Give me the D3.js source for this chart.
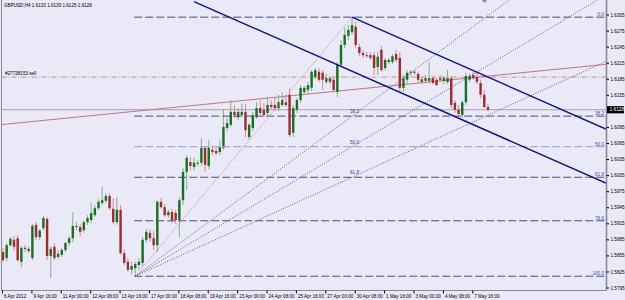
<!DOCTYPE html>
<html>
<head>
<meta charset="utf-8">
<script src="https://cdn.jsdelivr.net/npm/d3@7"></script>
<style>
  html, body { margin: 0; padding: 0; background: #e9e9f7; }
  svg { display: block; }
</style>
</head>
<body>
<div id="chart"></div>
<script>
// GBPUSD H4 candles
const headerText = "GBPUSD,H4  1.6133 1.6139 1.6125 1.6128";

const openP = [1.5862,1.5851,1.5875,1.5885,1.5888,1.5844,1.5868,1.5868,1.5851,1.5913,
  1.5890,1.5907,1.5924,1.5855,1.5872,1.5853,1.5857,1.5866,1.5879,1.5888,
  1.5909,1.5909,1.5903,1.5918,1.5922,1.5931,1.5944,1.5954,1.5958,1.5967,
  1.5943,1.5918,1.5941,1.5860,1.5844,1.5829,1.5832,1.5838,1.5842,1.5885,
  1.5898,1.5888,1.5875,1.5956,1.5946,1.5931,1.5937,1.5935,1.5922,1.5959,
  1.6012,1.6030,1.6021,1.6027,1.6029,1.6057,1.6023,1.6053,1.6051,1.6049,
  1.6057,1.6094,1.6100,1.6124,1.6114,1.6118,1.6124,1.6077,1.6094,1.6114,
  1.6131,1.6128,1.6122,1.6137,1.6137,1.6131,1.6137,1.6142,1.6156,1.6085,
  1.6128,1.6146,1.6161,1.6165,1.6169,1.6189,1.6199,1.6197,1.6180,1.6187,
  1.6184,1.6161,1.6212,1.6249,1.6266,1.6273,1.6283,1.6245,1.6234,1.6230,
  1.6230,1.6230,1.6208,1.6240,1.6206,1.6217,1.6217,1.6232,1.6225,1.6169,
  1.6184,1.6197,1.6199,1.6195,1.6180,1.6187,1.6182,1.6187,1.6184,1.6187,
  1.6182,1.6180,1.6187,1.6141,1.6128,1.6118,1.6142,1.6184,1.6193,1.6189,
  1.6178,1.6156,1.6133];

const highP = [1.5870,1.5879,1.5890,1.5892,1.5894,1.5873,1.5875,1.5873,1.5915,1.5918,
  1.5905,1.5930,1.5928,1.5873,1.5879,1.5866,1.5870,1.5881,1.5892,1.5937,
  1.5918,1.5915,1.5922,1.5931,1.5954,1.5950,1.5961,1.5984,1.5972,1.5971,
  1.5963,1.5965,1.5950,1.5866,1.5851,1.5844,1.5844,1.5851,1.5890,1.5905,
  1.5905,1.5902,1.5959,1.5963,1.5952,1.5941,1.5943,1.5941,1.5965,1.6019,
  1.6043,1.6040,1.6038,1.6034,1.6075,1.6060,1.6072,1.6060,1.6057,1.6072,
  1.6128,1.6113,1.6146,1.6137,1.6131,1.6139,1.6139,1.6103,1.6124,1.6142,
  1.6146,1.6141,1.6152,1.6146,1.6150,1.6156,1.6161,1.6156,1.6169,1.6137,
  1.6150,1.6174,1.6172,1.6180,1.6202,1.6206,1.6206,1.6202,1.6195,1.6191,
  1.6189,1.6217,1.6258,1.6281,1.6286,1.6301,1.6292,1.6251,1.6240,1.6236,
  1.6236,1.6236,1.6236,1.6247,1.6225,1.6225,1.6232,1.6240,1.6236,1.6193,
  1.6202,1.6202,1.6202,1.6199,1.6191,1.6193,1.6217,1.6191,1.6187,1.6193,
  1.6189,1.6202,1.6191,1.6146,1.6137,1.6146,1.6197,1.6195,1.6199,1.6199,
  1.6184,1.6165,1.6139];

const lowP = [1.5844,1.5845,1.5872,1.5866,1.5844,1.5834,1.5862,1.5860,1.5847,1.5885,
  1.5885,1.5903,1.5847,1.5814,1.5847,1.5849,1.5853,1.5862,1.5873,1.5881,
  1.5903,1.5892,1.5898,1.5913,1.5916,1.5928,1.5941,1.5950,1.5954,1.5941,
  1.5915,1.5913,1.5857,1.5838,1.5825,1.5821,1.5817,1.5829,1.5836,1.5879,
  1.5881,1.5866,1.5862,1.5943,1.5928,1.5926,1.5916,1.5915,1.5890,1.5950,
  1.5978,1.6015,1.6015,1.6023,1.6023,1.6012,1.6017,1.6043,1.6042,1.6043,
  1.6053,1.6088,1.6096,1.6113,1.6109,1.6114,1.6077,1.6072,1.6088,1.6111,
  1.6118,1.6114,1.6116,1.6128,1.6125,1.6125,1.6133,1.6133,1.6077,1.6077,
  1.6122,1.6141,1.6156,1.6159,1.6163,1.6185,1.6180,1.6165,1.6176,1.6176,
  1.6161,1.6152,1.6208,1.6243,1.6258,1.6268,1.6243,1.6228,1.6225,1.6225,
  1.6221,1.6193,1.6193,1.6199,1.6202,1.6213,1.6213,1.6217,1.6161,1.6161,
  1.6176,1.6191,1.6193,1.6180,1.6176,1.6178,1.6176,1.6176,1.6172,1.6180,
  1.6176,1.6176,1.6131,1.6122,1.6116,1.6113,1.6137,1.6180,1.6184,1.6176,
  1.6150,1.6131,1.6125];

const closeP = [1.5847,1.5875,1.5887,1.5872,1.5847,1.5870,1.5870,1.5864,1.5911,1.5890,
  1.5902,1.5926,1.5855,1.5868,1.5851,1.5859,1.5866,1.5879,1.5888,1.5911,
  1.5911,1.5900,1.5918,1.5926,1.5935,1.5944,1.5956,1.5959,1.5967,1.5944,
  1.5918,1.5941,1.5860,1.5842,1.5829,1.5836,1.5840,1.5844,1.5885,1.5900,
  1.5888,1.5875,1.5956,1.5946,1.5931,1.5937,1.5922,1.5922,1.5959,1.6012,
  1.6038,1.6023,1.6029,1.6029,1.6057,1.6025,1.6057,1.6049,1.6047,1.6058,
  1.6096,1.6103,1.6124,1.6118,1.6124,1.6124,1.6090,1.6100,1.6118,1.6131,
  1.6122,1.6118,1.6137,1.6133,1.6131,1.6142,1.6146,1.6137,1.6081,1.6131,
  1.6146,1.6169,1.6169,1.6174,1.6199,1.6202,1.6184,1.6184,1.6187,1.6180,
  1.6165,1.6212,1.6249,1.6268,1.6277,1.6286,1.6249,1.6234,1.6230,1.6228,
  1.6225,1.6206,1.6227,1.6202,1.6221,1.6221,1.6228,1.6221,1.6169,1.6187,
  1.6197,1.6199,1.6197,1.6184,1.6185,1.6182,1.6187,1.6178,1.6174,1.6184,
  1.6187,1.6187,1.6137,1.6128,1.6120,1.6142,1.6191,1.6191,1.6187,1.6180,
  1.6156,1.6133,1.6128];

const timeTickIdx = [0,8,16,24,32,40,48,56,64,72,80,88,96,104,112,120,128];
const timeLabels = ["6 Apr 2012","9 Apr 16:00","11 Apr 00:00","12 Apr 08:00","13 Apr 16:00",
  "17 Apr 00:00","18 Apr 08:00","19 Apr 16:00","23 Apr 00:00","24 Apr 08:00","25 Apr 16:00",
  "27 Apr 00:00","30 Apr 08:00","1 May 16:00","3 May 00:00","4 May 08:00","7 May 16:00"];

// 1.6125 is hidden behind the current-price box in the reference
const priceTicks = [1.5795,1.5825,1.5855,1.5885,1.5915,1.5945,1.5975,1.6005,1.6035,
  1.6065,1.6095,1.6155,1.6185,1.6215,1.6245,1.6275,1.6305];

const lastPrice = 1.6128;
const orderPrice = 1.6189;
const orderLabel = "#27738153 sell";

// fibonacci retracement + fan, anchored on the swing low / high bars
const swingLowIdx = 36, swingLowPrice = 1.5817;
const swingHighIdx = 95, swingHighPrice = 1.6301;
const fibLevels = [0, 38.2, 50, 61.8, 78.6, 100];
const fibLabels = ["0.0", "38.2", "50.0", "61.8", "78.6", "100.0"];
const fanLevels = [38.2, 50, 61.8];
const fanLabels = ["38.2", "50.0", "61.8"];

// hand-drawn lines: [bar index, price]
const channelUpper = [[95, 1.6301], [164.4, 1.6091]];
const channelLower = [[52, 1.6330], [164.4, 1.5990]];
const redTrend = [[-0.8, 1.6100], [164.4, 1.6213]];

const W = 625, H = 300;
const plotL = 1.5, plotR = 606.5, plotT = 0, plotB = 290.5;

const svg = d3.select("#chart").append("svg")
  .attr("width", W).attr("height", H)
  .style("font-family", "'Liberation Sans', Arial, sans-serif");

svg.append("rect").attr("width", W).attr("height", H).attr("fill", "#e9e9f7");

const x = d3.scaleLinear().domain([0, 164.4]).range([3, 607]);
const y = d3.scaleLinear().domain([1.5795, 1.6305]).range([288, 15]);

svg.append("defs").append("clipPath").attr("id", "plotClip")
  .append("rect").attr("x", plotL).attr("y", plotT)
  .attr("width", plotR - plotL).attr("height", plotB - plotT);

const plot = svg.append("g").attr("clip-path", "url(#plotClip)");

// current price line (behind the candles)
plot.append("line")
  .attr("x1", plotL).attr("x2", plotR)
  .attr("y1", y(lastPrice)).attr("y2", y(lastPrice))
  .attr("stroke", "#a4a4b0").attr("stroke-width", 1);

// order line
plot.append("line")
  .attr("x1", plotL).attr("x2", plotR)
  .attr("y1", y(orderPrice)).attr("y2", y(orderPrice))
  .attr("stroke", "#b49a7c").attr("stroke-width", 1)
  .attr("stroke-dasharray", "5,2,1,2");

svg.append("text")
  .attr("x", 5).attr("y", y(orderPrice) - 2)
  .attr("font-size", 4.6).attr("fill", "#000")
  .text(orderLabel);

// red trend line
const lineGen = d3.line().x(d => x(d[0])).y(d => y(d[1]));
plot.append("path").datum(redTrend).attr("d", lineGen)
  .attr("fill", "none").attr("stroke", "#cc7080").attr("stroke-width", 1);

// candles
const bars = d3.range(openP.length).map(i => ({
  i, o: openP[i], h: highP[i], l: lowP[i], c: closeP[i]
}));
const bodyW = 2.4;

const candle = plot.append("g").selectAll("g").data(bars).enter().append("g");
candle.append("line")
  .attr("x1", d => x(d.i)).attr("x2", d => x(d.i))
  .attr("y1", d => y(d.h)).attr("y2", d => y(d.l))
  .attr("stroke", d => d.c >= d.o ? "#86b086" : "#cc8f8f")
  .attr("stroke-width", 1);
candle.append("rect")
  .attr("x", d => x(d.i) - bodyW / 2)
  .attr("width", bodyW)
  .attr("y", d => y(Math.max(d.o, d.c)))
  .attr("height", d => Math.max(1, Math.abs(y(d.o) - y(d.c))))
  .attr("fill", d => d.c >= d.o ? "#17701d" : "#a32a2a");

// fibonacci retracement levels
const range = swingHighPrice - swingLowPrice;
fibLevels.forEach((lv, k) => {
  const p = swingHighPrice - range * lv / 100;
  plot.append("line")
    .attr("x1", x(swingLowIdx) - 1).attr("x2", plotR - 1)
    .attr("y1", y(p)).attr("y2", y(p))
    .attr("stroke", lv === 50 ? "#9d9dd2" : "#4c4c80")
    .attr("stroke-width", 1)
    .attr("stroke-dasharray", "8,3");
  svg.append("text")
    .attr("x", 604).attr("y", y(p) - 1)
    .attr("text-anchor", "end")
    .attr("font-size", 4.6).attr("fill", "#4848c0")
    .text(fibLabels[k]);
});

// fan: swing low -> swing high (pink) and fib fan lines
const x0 = x(swingLowIdx), y0 = y(swingLowPrice);
plot.append("line")
  .attr("x1", x0).attr("y1", y0)
  .attr("x2", x(swingHighIdx)).attr("y2", y(swingHighPrice))
  .attr("stroke", "#d8708a").attr("stroke-width", 1)
  .attr("stroke-dasharray", "1,1.5");

fanLevels.forEach((lv, k) => {
  const p = swingHighPrice - range * lv / 100;
  const x1 = x(swingHighIdx), y1 = y(p);
  const slope = (y1 - y0) / (x1 - x0);
  const xe = plotR;
  plot.append("line")
    .attr("x1", x0).attr("y1", y0)
    .attr("x2", xe).attr("y2", y0 + slope * (xe - x0))
    .attr("stroke", "#5a5aa0").attr("stroke-width", 1)
    .attr("stroke-dasharray", "1,1.5");
  svg.append("text")
    .attr("x", x1 - 2).attr("y", y1 - 3)
    .attr("font-size", 4.6).attr("fill", "#3c3c90")
    .text(fanLabels[k]);
});

// regression channel lines
[channelUpper, channelLower].forEach(seg => {
  plot.append("path").datum(seg).attr("d", lineGen)
    .attr("fill", "none").attr("stroke", "#10108a").attr("stroke-width", 1.4);
});

// chart frame
svg.append("line").attr("x1", plotL).attr("x2", plotL).attr("y1", 0).attr("y2", plotB)
  .attr("stroke", "#8a8a96");
svg.append("line").attr("x1", plotL).attr("x2", plotR).attr("y1", plotB).attr("y2", plotB)
  .attr("stroke", "#8a8a96");
svg.append("line").attr("x1", plotR).attr("x2", plotR).attr("y1", 0).attr("y2", plotB)
  .attr("stroke", "#8a8a96").attr("stroke-width", 1.6);

// shift marker
svg.append("path")
  .attr("d", "M482,0 L487,0 L484.5,3 Z")
  .attr("fill", "#8a8a96");

// price axis (right)
const yAxis = svg.append("g").attr("transform", `translate(${plotR},0)`);
priceTicks.forEach(t => {
  yAxis.append("line").attr("x1", 0).attr("x2", 2.5)
    .attr("y1", y(t)).attr("y2", y(t)).attr("stroke", "#000");
  yAxis.append("text").attr("x", 4).attr("y", y(t) + 1.6)
    .attr("font-size", 4.6).attr("fill", "#000")
    .text(t.toFixed(4));
});

// current price box
svg.append("rect")
  .attr("x", plotR + 0.5).attr("y", y(lastPrice) - 3.6)
  .attr("width", 17).attr("height", 7.2).attr("fill", "#000");
svg.append("text")
  .attr("x", plotR + 3).attr("y", y(lastPrice) + 1.7)
  .attr("font-size", 4.8).attr("fill", "#fff")
  .text(lastPrice.toFixed(4));

// time axis (bottom)
const xAxis = svg.append("g");
timeTickIdx.forEach((t, k) => {
  xAxis.append("line")
    .attr("x1", x(t) - 0.5).attr("x2", x(t) - 0.5)
    .attr("y1", plotB).attr("y2", plotB + 3).attr("stroke", "#000");
  xAxis.append("text")
    .attr("x", x(t) + 1).attr("y", 297.5)
    .attr("font-size", 4.6).attr("fill", "#000")
    .text(timeLabels[k]);
});

// header
svg.append("text")
  .attr("x", 4).attr("y", 7)
  .attr("font-size", 4.6).attr("fill", "#000")
  .text(headerText);
</script>
</body>
</html>
